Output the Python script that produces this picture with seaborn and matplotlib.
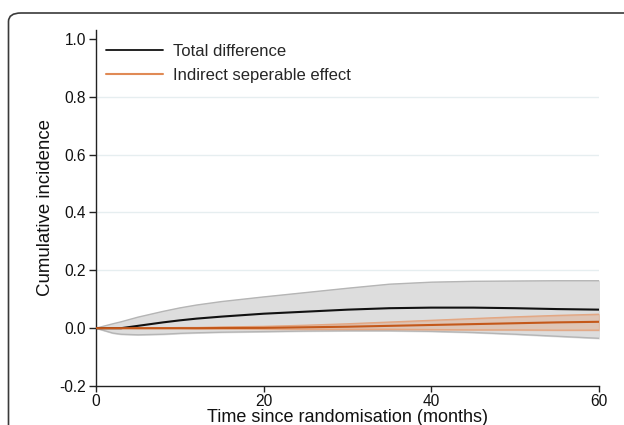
import numpy as np
import pandas as pd
import seaborn as sns
import matplotlib
matplotlib.use("Agg")
import matplotlib.pyplot as plt
from matplotlib.patches import FancyBboxPatch
from matplotlib.lines import Line2D

# ---- data ----
time = [0, 2, 3, 5, 8, 10, 12, 15, 20, 25, 30, 35, 40, 45, 50, 55, 60]
total_est = [0, 0.0, 0.0, 0.008, 0.02, 0.027, 0.033, 0.04, 0.05, 0.057, 0.064, 0.069, 0.071, 0.071, 0.069, 0.066, 0.064]
total_upper = [0, 0.015, 0.022, 0.038, 0.058, 0.07, 0.08, 0.092, 0.108, 0.123, 0.138, 0.152, 0.159, 0.162, 0.163, 0.164, 0.164]
total_lower = [0, -0.017, -0.021, -0.023, -0.021, -0.018, -0.016, -0.014, -0.012, -0.010, -0.009, -0.009, -0.011, -0.015, -0.021, -0.028, -0.035]
indirect_est = [0, 0, 0, 0, 0, 0, 0, 0.0005, 0.001, 0.003, 0.005, 0.008, 0.011, 0.014, 0.017, 0.020, 0.022]
indirect_upper = [0, 0, 0, 0.001, 0.001, 0.002, 0.002, 0.004, 0.006, 0.010, 0.015, 0.021, 0.027, 0.033, 0.039, 0.044, 0.048]
indirect_lower = [0, 0, 0, -0.001, -0.001, -0.001, -0.002, -0.002, -0.003, -0.004, -0.004, -0.004, -0.005, -0.006, -0.006, -0.007, -0.007]

series_names = ["Total difference", "Indirect seperable effect"]
y_ticks = [-0.2, 0.0, 0.2, 0.4, 0.6, 0.8, 1.0]
x_ticks = [0, 20, 40, 60]

df = pd.DataFrame({
    "time": time * 2,
    "value": total_est + indirect_est,
    "series": [series_names[0]] * len(time) + [series_names[1]] * len(time),
})

sns.set_theme(style="white")
plt.rcParams["font.family"] = ["Liberation Sans", "DejaVu Sans"]

fig = plt.figure(figsize=(6.24, 4.25), dpi=100)
ax = fig.add_axes([96/624, 1-386/425, (599-96)/624, (386-30)/425])

# outer rounded frame
frame = FancyBboxPatch((8.5/624, -0.2), 1.2, 1.2 - 13/425,
                       boxstyle="round,pad=0,rounding_size=0.02",
                       transform=fig.transFigure, fill=False,
                       edgecolor="#3a3a3a", linewidth=1.2, clip_on=False)
fig.patches.append(frame)

black = "#111111"
orange = "#c4581a"

ax.fill_between(time, total_lower, total_upper, color="#dddddd", zorder=1)
ax.plot(time, total_upper, color="#b5b5b5", lw=1, zorder=1.5)
ax.plot(time, total_lower, color="#b5b5b5", lw=1, zorder=1.5)
ax.fill_between(time, indirect_lower, indirect_upper, color="#e2a27c", alpha=0.4, zorder=2)
ax.plot(time, indirect_upper, color="#e3a783", lw=1, zorder=2.5)
ax.plot(time, indirect_lower, color="#e3a783", lw=1, zorder=2.5)

sns.lineplot(data=df, x="time", y="value", hue="series",
             palette={series_names[0]: black, series_names[1]: orange},
             linewidth=1.5, ax=ax, legend=False, zorder=3)

for yv in [0.2, 0.4, 0.6, 0.8]:
    ax.axhline(yv, color="#e6eef0", lw=1, zorder=0)

ax.set_xlim(0, 60)
ax.set_ylim(-0.2, 1.031)
ax.set_xticks(x_ticks)
ax.set_xticklabels([str(v) for v in x_ticks])
ax.set_yticks(y_ticks)
ax.set_yticklabels([f"{v:.1f}" for v in y_ticks])
ax.tick_params(axis="both", direction="out", width=1, color="#222222",
               labelsize=11.2, labelcolor="#111111")
ax.tick_params(axis="y", left=True, length=5, pad=2)
ax.tick_params(axis="x", bottom=True, length=4, pad=1.5)
for s in ["top", "right"]:
    ax.spines[s].set_visible(False)
for s in ["left", "bottom"]:
    ax.spines[s].set_color("#222222")
    ax.spines[s].set_linewidth(1)

ax.set_xlabel("Time since randomisation (months)", fontsize=13, labelpad=0, color="#111111")
ax.set_ylabel("Cumulative incidence", fontsize=13.4, labelpad=4, color="#111111")

handles = [Line2D([], [], color=black, lw=1.3),
           Line2D([], [], color="#e08a55", lw=1.5)]
ax.legend(handles, series_names, loc="upper left", frameon=False, fontsize=12,
          handlelength=3.4, handletextpad=0.6, labelspacing=0.55,
          borderaxespad=0.2, bbox_to_anchor=(0.0, 0.99))

fig.savefig("out.png", dpi=100)
